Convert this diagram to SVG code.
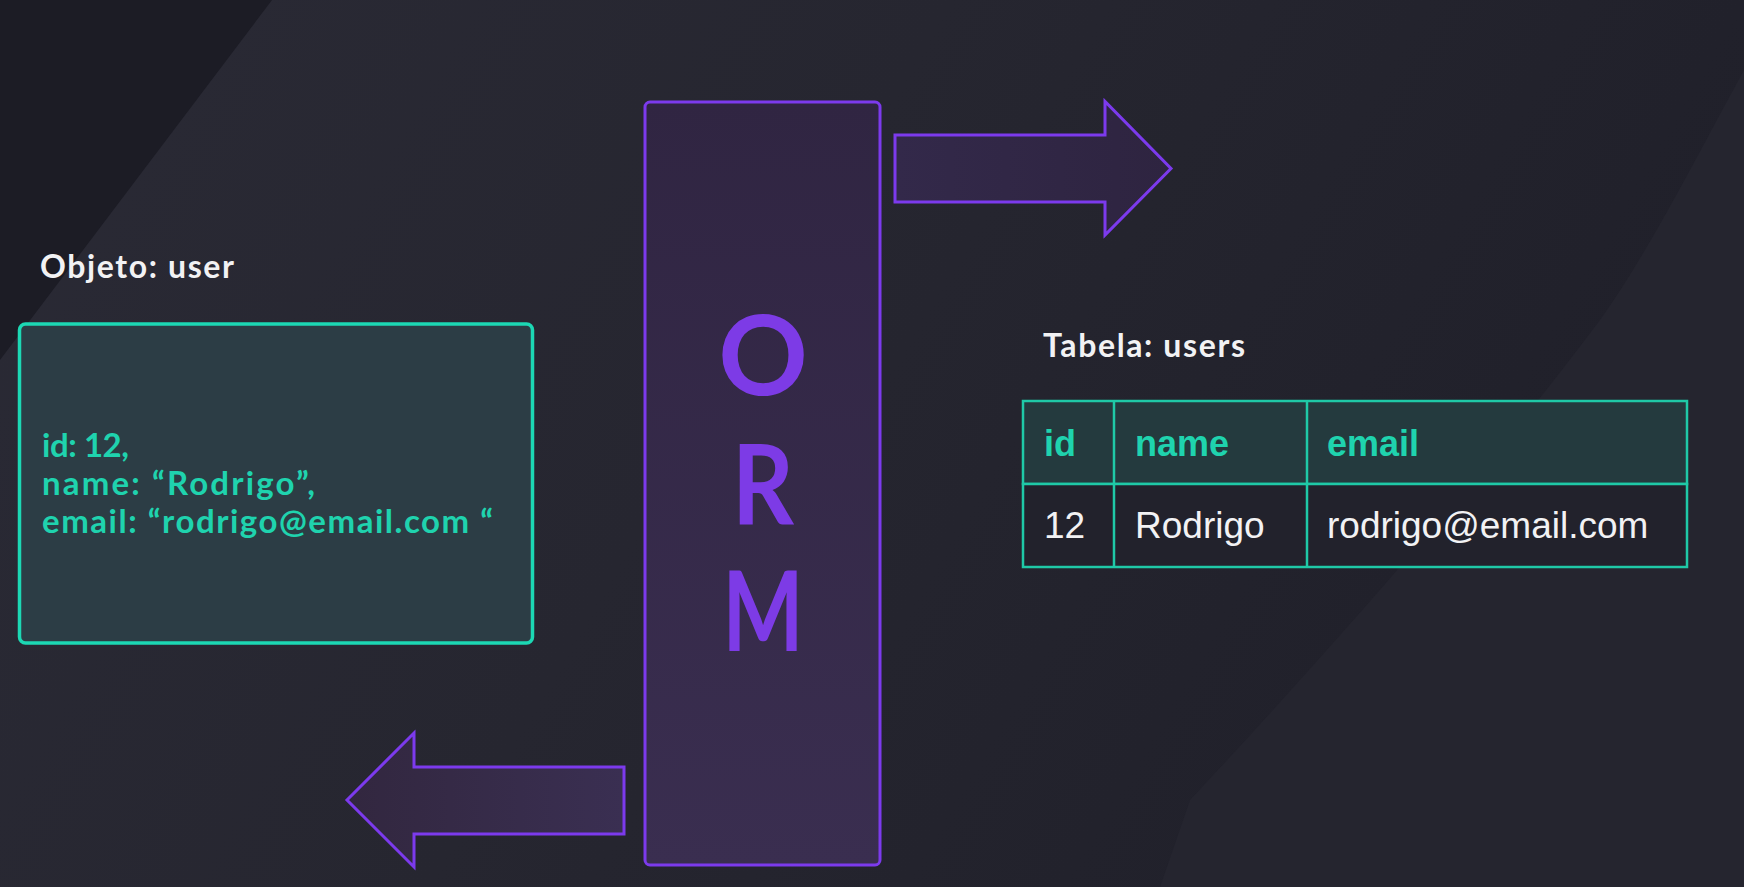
<svg xmlns="http://www.w3.org/2000/svg" width="1744" height="887" viewBox="0 0 1744 887">
  <defs>
    <linearGradient id="bg" x1="0" y1="0" x2="1" y2="0.3">
      <stop offset="0" stop-color="#2a2a35"/>
      <stop offset="0.5" stop-color="#262630"/>
      <stop offset="1" stop-color="#20202a"/>
    </linearGradient>
    <linearGradient id="ormFill" x1="0" y1="0" x2="0" y2="1">
      <stop offset="0" stop-color="#302542"/>
      <stop offset="1" stop-color="#3a2e50"/>
    </linearGradient>
    <linearGradient id="arrowFill" x1="0" y1="0" x2="1" y2="0">
      <stop offset="0" stop-color="#33294a"/>
      <stop offset="1" stop-color="#2e2440"/>
    </linearGradient>
    <linearGradient id="arrowFill2" x1="0" y1="0" x2="1" y2="0">
      <stop offset="0" stop-color="#32273f"/>
      <stop offset="1" stop-color="#3a2f52"/>
    </linearGradient>
    <style>
      .purple { stroke: #7c3aed; stroke-width: 3; stroke-linejoin: miter; }
      .title { font-family: "Lato", "Liberation Sans", sans-serif; font-weight: 700; font-size: 32px; fill: #f2f2f4; }
      .code { font-family: "Lato", "Liberation Sans", sans-serif; font-weight: 700; font-size: 33px; fill: #1fd3ae; }
      .orm { font-family: "Lato", "Liberation Sans", sans-serif; font-weight: 700; font-size: 111px; fill: #7d3be6; text-anchor: middle; }
      .cell { stroke: #1fc9a7; stroke-width: 2.5; }
      .th { font-family: "Liberation Sans", Arial, sans-serif; font-weight: 700; font-size: 36px; fill: #1fd3ae; }
      .td { font-family: "Liberation Sans", Arial, sans-serif; font-size: 37px; fill: #f2f2f4; }
    </style>
  </defs>

  <!-- background -->
  <rect x="0" y="0" width="1744" height="887" fill="url(#bg)"/>
  <polygon points="0,0 272,0 0,360" fill="#1c1c25"/>
  <path d="M1744,70 C1700,150 1650,250 1600,320 C1480,480 1330,650 1190,800 L1160,887 L1744,887 Z" fill="#25252f"/>

  <!-- connectors -->
  <g id="connectors">
    <path id="arrow-right" class="purple" fill="url(#arrowFill)" d="M895,135 H1105 V101.5 L1171,168.5 L1105,235 V202 H895 Z"/>
    <path id="arrow-left" class="purple" fill="url(#arrowFill2)" d="M624,767 H414 V733 L347,800 L414,867 V834 H624 Z"/>
  </g>

  <!-- object node -->
  <g id="object-user">
    <text class="title" x="40" y="278" textLength="194" lengthAdjust="spacing">Objeto: user</text>
    <rect x="19.5" y="324" width="513" height="319" rx="6" fill="#2c3d45" stroke="#1cd8b4" stroke-width="3.5"/>
    <text class="code" x="42" y="457" textLength="87" lengthAdjust="spacing">id: 12,</text>
    <text class="code" x="42" y="495" textLength="273" lengthAdjust="spacing">name: “Rodrigo”,</text>
    <text class="code" x="42" y="533" textLength="451" lengthAdjust="spacing">email: “rodrigo@email.com “</text>
  </g>

  <!-- ORM node -->
  <g id="orm">
    <rect x="645" y="102" width="235" height="763" rx="5" fill="url(#ormFill)" class="purple"/>
    <text class="orm" x="763" y="395">O</text>
    <text class="orm" x="763" y="524" textLength="62" lengthAdjust="spacingAndGlyphs">R</text>
    <text class="orm" x="763" y="651" textLength="81" lengthAdjust="spacingAndGlyphs">M</text>
  </g>

  <!-- table node -->
  <g id="table-users">
    <text class="title" x="1043" y="357" textLength="202" lengthAdjust="spacing">Tabela: users</text>
    <rect class="cell" x="1023" y="401" width="664" height="83" fill="#243a3e"/>
    <rect class="cell" x="1023" y="484" width="664" height="83" fill="#22222c"/>
    <line class="cell" x1="1114" y1="401" x2="1114" y2="567"/>
    <line class="cell" x1="1307" y1="401" x2="1307" y2="567"/>
    <text class="th" x="1044" y="456">id</text>
    <text class="th" x="1135" y="456">name</text>
    <text class="th" x="1327" y="456">email</text>
    <text class="td" x="1044" y="538">12</text>
    <text class="td" x="1135" y="538">Rodrigo</text>
    <text class="td" x="1327" y="538">rodrigo@email.com</text>
  </g>
</svg>
